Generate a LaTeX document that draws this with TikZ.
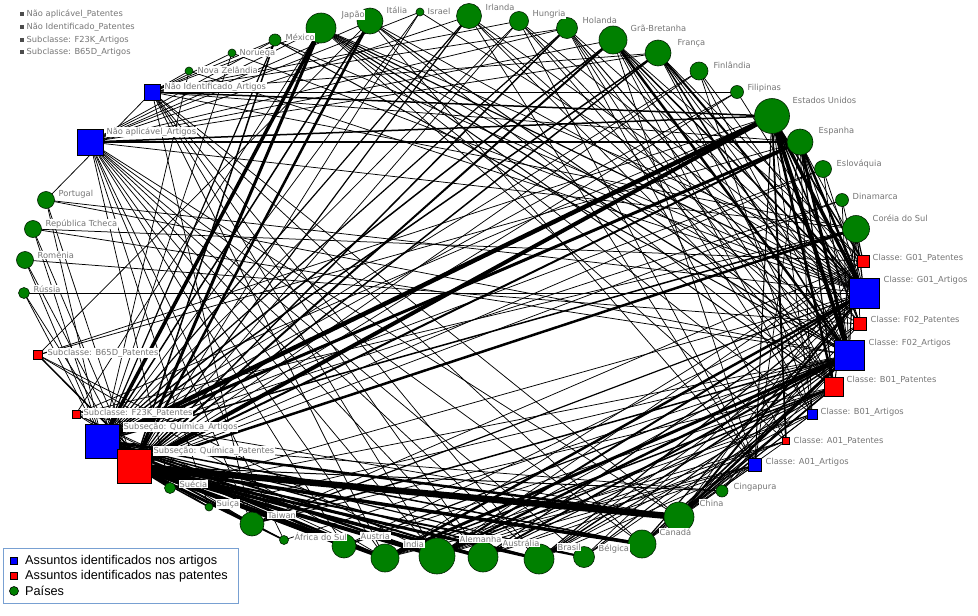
\documentclass[tikz,border=0pt]{standalone}
\usepackage{fontspec}
\setmainfont{DejaVu Sans}
\newfontfamily\legfont{Liberation Sans}
\pgfdeclarelayer{bgfill}
\pgfdeclarelayer{edges}
\pgfsetlayers{bgfill,edges,main}
\definecolor{ngreen}{RGB}{0,128,0}
\definecolor{nblue}{RGB}{0,0,255}
\definecolor{nred}{RGB}{255,0,0}
\definecolor{lblgray}{RGB}{118,118,118}
\definecolor{legborder}{RGB}{120,160,210}
\tikzset{
  country/.style={circle,fill=ngreen,draw=black!75!ngreen,line width=0.6pt,inner sep=0pt,minimum size=#1},
  subjA/.style={rectangle,fill=nblue,draw=black,line width=0.6pt,inner sep=0pt,minimum size=#1},
  subjP/.style={rectangle,fill=nred,draw=black,line width=0.6pt,inner sep=0pt,minimum size=#1},
  isol/.style={rectangle,fill=black!70,inner sep=0pt,minimum size=3.5pt},
  lbl/.style={anchor=west,fill=white,inner sep=0.5pt,text=lblgray,font=\fontsize{8.3}{9}\selectfont},
  legtxt/.style={anchor=west,inner sep=0pt,text=black,font=\legfont\fontsize{12.7}{14}\selectfont},
  tie/.style={line width=#1,black},
}
\def\countries{
japao/321/28/30/341/15/Japão,
italia/370/21/26/386/10/Itália,
israel/420/12/8/427/11/Israel,
irlanda/469/16/25/485/7/Irlanda,
hungria/519/21/19/532/14/Hungria,
holanda/567/28/21/582/20/Holanda,
gra/613/40/28/630/28/Grã-Bretanha,
franca/658/53/26/677/43/França,
finlandia/699/71/18/713/65/Finlândia,
filipinas/737/92/13/747/88/Filipinas,
eua/772/116/35/792/100/Estados Unidos,
espanha/800/142/26/818/131/Espanha,
eslovaquia/823/169/17/836/164/Eslováquia,
dinamarca/842/200/13/852/196/Dinamarca,
coreia/856/229/27/872/218/Coréia do Sul,
cingapura/722/491/12/733/487/Cingapura,
china/679/517/30/699/503/China,
canada/642/544/28/659/532/Canadá,
belgica/584/557/21/598/549/Bélgica,
brasil/539/559/30/557/547/Brasil,
australia/483/557/30/502/543/Austrália,
alemanha/437/556/36/459/539/Alemanha,
india/385/558/28/403/544/Índia,
austria/344/546/24/360/536/Áustria,
africa/284/540/9/294/537/África do Sul,
taiwan/252/524/24/267/515/Taiwan,
suica/209/507/8/216/504/Suíça,
suecia/170/488/11/179/484/Suécia,
russia/24/293/11/33/289/Rússia,
romenia/25/260/17/37/255/Romênia,
tcheca/33/229/17/45/224/República Tcheca,
portugal/46/200/17/58/194/Portugal,
novaz/189/71/8/197/70/Nova Zelândia,
noruega/232/53/8/239/53/Noruega,
mexico/275/40/12/285/37/México}
\def\subjects{
qa/102/441/34/subjA/123/427/Subseção: Química\_Artigos,
qp/134/466/34/subjP/153/451/Subseção: Química\_Patentes,
f23kp/76/414/8/subjP/83/413/Subclasse: F23K\_Patentes,
b65dp/38/355/9/subjP/47/353/Subclasse: B65D\_Patentes,
naa/90/142/26/subjA/106/132/Não aplicável\_Artigos,
nia/152/92/16/subjA/164/87/Não Identificado\_Artigos,
g01p/863/261/12/subjP/872/258/Classe: G01\_Patentes,
g01a/864/293/30/subjA/883/280/Classe: G01\_Artigos,
f02p/860/324/13/subjP/870/320/Classe: F02\_Patentes,
f02a/849/355/30/subjA/868/343/Classe: F02\_Artigos,
b01p/834/387/19/subjP/846/380/Classe: B01\_Patentes,
b01a/812/414/10/subjA/820/412/Classe: B01\_Artigos,
a01p/786/441/7/subjP/793/441/Classe: A01\_Patentes,
a01a/755/465/13/subjA/765/462/Classe: A01\_Artigos}
\begin{document}
\begin{tikzpicture}[x=1pt,y=-1pt]
\useasboundingbox (0,0) rectangle (978,616);
\begin{pgfonlayer}{bgfill}
\fill[white] (0,0) rectangle (978,616);
\end{pgfonlayer}
% nodes
\foreach \nm/\x/\y/\dd/\lx/\ly/\txt in \countries {
  \node[country=\dd pt] (\nm) at (\x,\y) {};
}
\foreach \nm/\x/\y/\dd/\st/\lx/\ly/\txt in \subjects {
  \node[\st=\dd pt] (\nm) at (\x,\y) {};
}
% labels
\foreach \nm/\x/\y/\dd/\lx/\ly/\txt in \countries {
  \node[lbl] (l-\nm) at (\lx,\ly) {\txt};
}
\foreach \nm/\x/\y/\dd/\st/\lx/\ly/\txt in \subjects {
  \node[lbl] (l-\nm) at (\lx,\ly) {\txt};
}
% isolated subjects
\foreach \i/\y/\txt in {1/14/Não aplicável\_Patentes,2/27/Não Identificado\_Patentes,3/40/Subclasse: F23K\_Artigos,4/52/Subclasse: B65D\_Artigos} {
  \node[isol] (iso\i) at (22,\y) {};
  \node[lbl] (l-iso\i) at (26,\y) {\txt};
}
% legend
\node[draw=legborder,line width=1.3pt,anchor=north west,minimum width=235pt,minimum height=55pt,inner sep=0pt] (legend) at (3,548) {};
\node[subjA=7pt,line width=0.5pt] (legA) at (14,561) {};
\node[legtxt] (legAt) at (25,561) {Assuntos identificados nos artigos};
\node[subjP=7pt,line width=0.5pt] (legP) at (14,576) {};
\node[legtxt] (legPt) at (25,576) {Assuntos identificados nas patentes};
\node[country=9pt,draw=black] (legC) at (14,591) {};
\node[legtxt] (legCt) at (25,591) {Países};
% edges
\begin{pgfonlayer}{edges}
\foreach \a/\b/\w in {
qa/japao/3.5, qa/italia/1.5, qa/israel/0.75, qa/irlanda/1.2, qa/hungria/0.75, qa/holanda/1.2, qa/gra/1.5, qa/franca/1.5, qa/finlandia/0.75, qa/filipinas/0.75, qa/eua/4.5, qa/espanha/3, qa/eslovaquia/0.75, qa/dinamarca/0.75, qa/coreia/1.5, qa/cingapura/0.75, qa/china/2.5, qa/canada/1.5, qa/belgica/1.2, qa/brasil/1.5, qa/australia/2, qa/alemanha/2.5, qa/india/2.5, qa/austria/1.5, qa/africa/0.75, qa/taiwan/1.5, qa/suica/0.75, qa/suecia/1, qa/russia/0.75, qa/romenia/0.75, qa/tcheca/0.75, qa/portugal/0.75, qa/mexico/1.2, qa/noruega/0.75, qa/novaz/0.75,
qp/japao/3, qp/italia/2.5, qp/irlanda/1.2, qp/hungria/0.75, qp/holanda/1.5, qp/gra/2, qp/franca/1.5, qp/finlandia/0.75, qp/filipinas/0.75, qp/eua/4, qp/espanha/2, qp/eslovaquia/0.75, qp/dinamarca/0.75, qp/coreia/2.5, qp/cingapura/1, qp/china/6.5, qp/canada/3.5, qp/belgica/2, qp/brasil/3, qp/australia/3.5, qp/alemanha/4, qp/india/4, qp/austria/3, qp/africa/1.5, qp/taiwan/3, qp/suica/1.5, qp/suecia/1.5, qp/russia/0.75, qp/romenia/0.75, qp/tcheca/0.75, qp/portugal/0.75, qp/mexico/1.5, qp/israel/0.75,
g01a/eua/3.5, g01a/espanha/2.5, g01a/coreia/1.2, g01a/dinamarca/0.75, g01a/eslovaquia/0.75, g01a/franca/2, g01a/gra/1.5, g01a/holanda/0.75, g01a/irlanda/0.75, g01a/japao/1.2, g01a/italia/0.75, g01a/finlandia/0.75, g01a/filipinas/0.75, g01a/hungria/0.75, g01a/israel/0.75, g01a/mexico/0.75, g01a/china/2, g01a/india/2.5, g01a/alemanha/2, g01a/australia/1.2, g01a/brasil/1.2, g01a/canada/1.2, g01a/belgica/0.75, g01a/taiwan/1.2, g01a/austria/0.75, g01a/suecia/0.75, g01a/cingapura/0.75, g01a/russia/0.75, g01a/portugal/0.75, g01a/noruega/0.75, g01a/novaz/0.75,
f02a/eua/4, f02a/espanha/3, f02a/coreia/1.2, f02a/gra/2.5, f02a/franca/1.5, f02a/japao/1.2, f02a/italia/1, f02a/holanda/1, f02a/irlanda/0.75, f02a/hungria/0.75, f02a/finlandia/0.75, f02a/eslovaquia/0.75, f02a/dinamarca/0.75, f02a/mexico/1, f02a/china/2.5, f02a/india/3, f02a/alemanha/2.5, f02a/australia/2, f02a/brasil/1.5, f02a/canada/1.5, f02a/belgica/1, f02a/austria/1.2, f02a/taiwan/1.5, f02a/africa/0.75, f02a/suica/0.75, f02a/suecia/0.75, f02a/cingapura/0.75, f02a/tcheca/0.75, f02a/portugal/0.75,
g01p/eua/1.5, g01p/coreia/1.2, g01p/espanha/0.75, g01p/japao/0.75, g01p/china/0.75, g01p/alemanha/0.75, g01p/india/0.75, g01p/tcheca/0.75, g01p/franca/0.75, g01p/taiwan/0.75, g01p/gra/0.75,
f02p/eua/1.5, f02p/espanha/0.75, f02p/coreia/0.75, f02p/japao/0.75, f02p/alemanha/0.75, f02p/china/0.75, f02p/gra/0.75, f02p/franca/0.75, f02p/brasil/0.75, f02p/romenia/0.75,
b01p/eua/2.5, b01p/espanha/1.2, b01p/coreia/1, b01p/china/1.5, b01p/india/1.5, b01p/alemanha/1.5, b01p/australia/1, b01p/canada/1, b01p/brasil/1, b01p/japao/1, b01p/franca/0.75, b01p/gra/0.75, b01p/holanda/0.75, b01p/taiwan/0.75, b01p/belgica/0.75, b01p/hungria/0.75, b01p/irlanda/0.75, b01p/italia/0.75, b01p/austria/0.75,
b01a/eua/0.75, b01a/espanha/0.75, b01a/china/0.75, b01a/india/0.75, b01a/alemanha/0.75, b01a/brasil/0.75, b01a/japao/0.75, b01a/gra/0.75, b01a/canada/0.75, b01a/finlandia/0.75, b01a/holanda/0.75,
a01p/eua/1.8, a01p/china/0.75, a01p/india/0.75, a01p/alemanha/0.75, a01p/australia/0.75, a01p/japao/0.75, a01p/holanda/0.75,
a01a/eua/1, a01a/india/0.75, a01a/china/0.75, a01a/brasil/0.75, a01a/australia/0.75, a01a/alemanha/0.75, a01a/canada/0.75, a01a/italia/0.75, a01a/espanha/0.75, a01a/hungria/0.75, a01a/irlanda/0.75, a01a/gra/0.75,
naa/eua/1.5, naa/espanha/1.5, naa/coreia/0.75, naa/japao/0.75, naa/mexico/0.75, naa/gra/0.75, naa/franca/0.75, naa/holanda/0.75, naa/irlanda/0.75, naa/italia/0.75, naa/china/0.75, naa/canada/0.75, naa/india/0.75, naa/alemanha/0.75, naa/australia/0.75, naa/brasil/0.75, naa/belgica/0.75, naa/taiwan/0.75, naa/austria/0.75, naa/africa/0.75, naa/suica/0.75, naa/suecia/0.75, naa/israel/0.75,
nia/eua/1.5, nia/filipinas/0.75, nia/espanha/0.75, nia/coreia/0.75, nia/japao/0.75, nia/mexico/0.75, nia/noruega/0.75, nia/novaz/0.75, nia/china/0.75, nia/india/0.75, nia/alemanha/0.75, nia/brasil/0.75, nia/canada/0.75, nia/taiwan/0.75, nia/australia/0.75, nia/hungria/0.75, nia/holanda/0.75, nia/portugal/0.75, nia/franca/0.75,
b65dp/suecia/1.5, b65dp/alemanha/0.75, b65dp/eua/0.75, b65dp/india/0.75, b65dp/italia/0.75, b65dp/espanha/0.75,
f23kp/japao/0.75, f23kp/eua/0.75, f23kp/china/0.75, f23kp/taiwan/0.75, f23kp/coreia/0.75, f23kp/india/0.75, f23kp/austria/0.75}
{ \draw[tie=\w pt] (\a.center) -- (\b.center); }
\end{pgfonlayer}
\end{tikzpicture}
\end{document}
